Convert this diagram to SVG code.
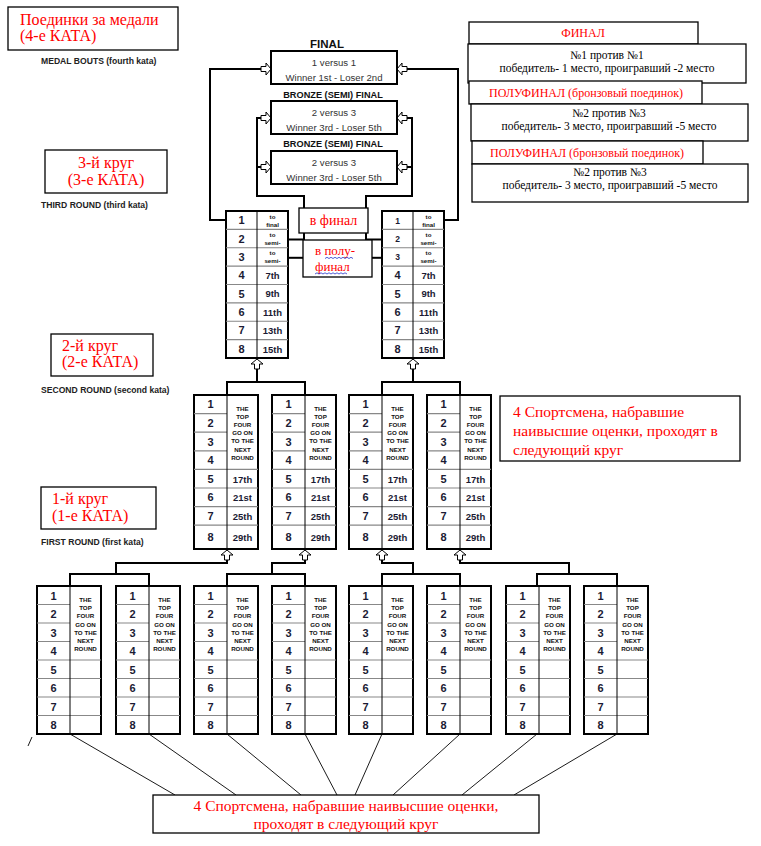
<svg xmlns="http://www.w3.org/2000/svg" xmlns:xlink="http://www.w3.org/1999/xlink" width="761" height="846" viewBox="0 0 761 846">
<style>
.bx{fill:#fff;stroke:#000;stroke-width:1.3}
.red{font-family:"Liberation Serif","Times New Roman",serif;fill:#f00}
.blk{font-family:"Liberation Serif","Times New Roman",serif;fill:#000}
.lbl{font-family:"Liberation Sans",Arial,sans-serif;font-weight:bold;font-size:8.6px;fill:#222}
.ft{font-family:"Liberation Sans",Arial,sans-serif;font-size:9.6px;fill:#333;text-anchor:middle}
.fh{font-family:"Liberation Sans",Arial,sans-serif;font-weight:bold;font-size:9.2px;fill:#111;text-anchor:middle}
.tb{fill:#fff;stroke:#000;stroke-width:2}
.rl{stroke:#888;stroke-width:1.2;fill:none}
.dv{stroke:#000;stroke-width:1;fill:none}
.n{font-family:"Liberation Sans",Arial,sans-serif;font-weight:bold;font-size:11px;fill:#1b1b33;text-anchor:middle}
.ns{font-size:8.5px}
.o{font-family:"Liberation Sans",Arial,sans-serif;font-weight:bold;font-size:9.5px;fill:#1b1b33;text-anchor:middle}
.tf{font-family:"Liberation Sans",Arial,sans-serif;font-weight:bold;font-size:6.2px;fill:#111;text-anchor:middle}
.ln{stroke:#000;stroke-width:2;fill:none}
.dg{stroke:#000;stroke-width:0.9;fill:none}
.ar{fill:#fff;stroke:#000;stroke-width:1}
.wv{stroke:#2233cc;stroke-width:0.8;fill:none}
</style>
<defs>
<path id="arR" d="M-10,-2.5H-5V-6L0,0L-5,6V2.5H-10Z"/>
<path id="arU" d="M-2.5,10V5H-6L0,0L6,5H2.5V10Z"/>
</defs>

<!-- connectors -->
<g id="connectors">
<polyline class="ln" points="226,220 210,220 210,69 261,69"/>
<polyline class="ln" points="444,220 458,220 458,69 407,69"/>
<polyline class="ln" points="261,118 257,118 257,196 304,196 304,257.8"/>
<polyline class="ln" points="257,167 261,167"/>
<polyline class="ln" points="288,239.5 304,239.5"/>
<polyline class="ln" points="288,257.8 304,257.8"/>
<polyline class="ln" points="407,118 412,118 412,196 366,196 366,257.8"/>
<polyline class="ln" points="407,167 412,167"/>
<polyline class="ln" points="366,239.5 382,239.5"/>
<polyline class="ln" points="366,257.8 382,257.8"/>
<use href="#arR" class="ar" transform="translate(271,69)"/>
<use href="#arR" class="ar" transform="translate(271,118)"/>
<use href="#arR" class="ar" transform="translate(271,167)"/>
<use href="#arR" class="ar" transform="translate(397,69) scale(-1,1)"/>
<use href="#arR" class="ar" transform="translate(397,118) scale(-1,1)"/>
<use href="#arR" class="ar" transform="translate(397,167) scale(-1,1)"/>
<polyline class="ln" points="257,369 257,382"/>
<polyline class="ln" points="227,395 227,382 305,382 305,395"/>
<polyline class="ln" points="413,369 413,382"/>
<polyline class="ln" points="382,395 382,382 460,382 460,395"/>
<use href="#arU" class="ar" transform="translate(257,359)"/>
<use href="#arU" class="ar" transform="translate(413,359)"/>
<polyline class="ln" points="70,586 70,574 149,574 149,586"/>
<polyline class="ln" points="116,574 116,563 227,563 227,560"/>
<polyline class="ln" points="227,586 227,574 305,574 305,586"/>
<polyline class="ln" points="272,574 272,563 305,563 305,560"/>
<polyline class="ln" points="382,586 382,574 460,574 460,586"/>
<polyline class="ln" points="413,574 413,563 382,563 382,560"/>
<polyline class="ln" points="537,586 537,574 617,574 617,586"/>
<polyline class="ln" points="569,574 569,563 460,563 460,560"/>
<use href="#arU" class="ar" transform="translate(227,550)"/>
<use href="#arU" class="ar" transform="translate(305,550)"/>
<use href="#arU" class="ar" transform="translate(382,550)"/>
<use href="#arU" class="ar" transform="translate(460,550)"/>
<line class="dg" x1="70" y1="734" x2="175" y2="795"/>
<line class="dg" x1="149" y1="734" x2="236" y2="795"/>
<line class="dg" x1="227" y1="734" x2="301" y2="795"/>
<line class="dg" x1="305" y1="734" x2="337" y2="795"/>
<line class="dg" x1="382" y1="734" x2="355" y2="795"/>
<line class="dg" x1="460" y1="734" x2="393" y2="795"/>
<line class="dg" x1="537" y1="734" x2="462" y2="795"/>
<line class="dg" x1="617" y1="734" x2="514" y2="795"/>
<line class="dg" x1="28" y1="746" x2="32" y2="737"/>
</g>

<!-- left labels -->
<g id="medal-label">
<rect class="bx" x="8" y="7" width="170" height="43"/>
<text class="red" font-size="16" x="20" y="25">Поединки за медали</text>
<text class="red" font-size="16" x="20" y="41">(4-е КАТА)</text>
<text class="lbl" x="41" y="64">MEDAL BOUTS (fourth kata)</text>
</g>
<g id="third-label">
<rect class="bx" x="45" y="150" width="122" height="43"/>
<text class="red" font-size="16" x="106" y="168" text-anchor="middle">3-й круг</text>
<text class="red" font-size="16" x="106" y="185" text-anchor="middle">(3-е КАТА)</text>
<text class="lbl" x="41" y="208">THIRD ROUND (third kata)</text>
</g>
<g id="second-label">
<rect class="bx" x="51" y="334" width="102" height="42"/>
<text class="red" font-size="16" x="62" y="351">2-й круг</text>
<text class="red" font-size="16" x="62" y="367">(2-е КАТА)</text>
<text class="lbl" x="41" y="393">SECOND ROUND (second kata)</text>
</g>
<g id="first-label">
<rect class="bx" x="41" y="487" width="115" height="42"/>
<text class="red" font-size="16" x="52" y="504">1-й круг</text>
<text class="red" font-size="16" x="52" y="521">(1-е КАТА)</text>
<text class="lbl" x="41" y="545">FIRST ROUND (first kata)</text>
</g>

<!-- final boxes -->
<g id="final">
<text class="fh" x="327" y="48" style="font-size:11.5px">FINAL</text>
<rect class="tb" x="271" y="51" width="126" height="33"/>
<text class="ft" x="334" y="66">1 versus 1</text>
<text class="ft" x="334" y="81">Winner 1st - Loser 2nd</text>
</g>
<g id="bronze1">
<text class="fh" x="333" y="98">BRONZE (SEMI) FINAL</text>
<rect class="tb" x="271" y="101" width="126" height="33"/>
<text class="ft" x="334" y="116">2 versus 3</text>
<text class="ft" x="334" y="131">Winner 3rd - Loser 5th</text>
</g>
<g id="bronze2">
<text class="fh" x="333" y="147">BRONZE (SEMI) FINAL</text>
<rect class="tb" x="271" y="151" width="126" height="33"/>
<text class="ft" x="334" y="166">2 versus 3</text>
<text class="ft" x="334" y="181">Winner 3rd - Loser 5th</text>
</g>

<!-- top right annotations -->
<g id="ann-final">
<rect class="bx" x="469" y="22" width="229" height="22"/>
<text class="red" font-size="12" x="583" y="37" text-anchor="middle">ФИНАЛ</text>
<rect class="bx" x="468" y="44" width="278" height="39"/>
<text class="blk" font-size="11.5" x="607" y="59" text-anchor="middle">№1 против №1</text>
<text class="blk" font-size="11.5" x="607" y="72" text-anchor="middle">победитель- 1 место, проигравший -2 место</text>
</g>
<g id="ann-semi1">
<rect class="bx" x="469" y="81" width="233" height="23"/>
<text class="red" font-size="12" x="586" y="97" text-anchor="middle">ПОЛУФИНАЛ (бронзовый поединок)</text>
<rect class="bx" x="471" y="104" width="277" height="37"/>
<text class="blk" font-size="11.5" x="609" y="117" text-anchor="middle">№2 против №3</text>
<text class="blk" font-size="11.5" x="609" y="130" text-anchor="middle">победитель- 3 место, проигравший -5 место</text>
</g>
<g id="ann-semi2">
<rect class="bx" x="472" y="141" width="231" height="23"/>
<text class="red" font-size="12" x="587" y="157" text-anchor="middle">ПОЛУФИНАЛ (бронзовый поединок)</text>
<rect class="bx" x="472" y="164" width="276" height="38"/>
<text class="blk" font-size="11.5" x="610" y="176" text-anchor="middle">№2 против №3</text>
<text class="blk" font-size="11.5" x="610" y="189" text-anchor="middle">победитель- 3 место, проигравший -5 место</text>
</g>

<!-- third round tables -->
<g id="r3-left" transform="translate(226,211)">
<rect class="tb" x="0" y="0" width="62" height="147"/>
<path class="rl" d="M0,18.4H62M0,36.75H62M0,55.1H62M0,73.5H62M0,91.9H62M0,110.25H62M0,128.6H62"/>
<path class="dv" d="M31,0V147"/>
<text class="n" x="15.5" y="13.2">1</text>
<text class="n" x="15.5" y="31.6">2</text>
<text class="n" x="15.5" y="50">3</text>
<text class="n" x="15.5" y="68.3">4</text>
<text class="n" x="15.5" y="86.7">5</text>
<text class="n" x="15.5" y="105.1">6</text>
<text class="n" x="15.5" y="123.4">7</text>
<text class="n" x="15.5" y="141.8">8</text>
<text class="tf" x="46.5" y="7.5">to</text>
<text class="tf" x="46.5" y="15.5">final</text>
<text class="tf" x="46.5" y="25.9">to</text>
<text class="tf" x="46.5" y="33.9">semi-</text>
<text class="tf" x="46.5" y="44.3">to</text>
<text class="tf" x="46.5" y="52.3">semi-</text>
<text class="o" x="46.5" y="68">7th</text>
<text class="o" x="46.5" y="86.4">9th</text>
<text class="o" x="46.5" y="104.8">11th</text>
<text class="o" x="46.5" y="123.1">13th</text>
<text class="o" x="46.5" y="141.5">15th</text>
</g>
<g id="r3-right" transform="translate(382,211)">
<rect class="tb" x="0" y="0" width="62" height="147"/>
<path class="rl" d="M0,18.4H62M0,36.75H62M0,55.1H62M0,73.5H62M0,91.9H62M0,110.25H62M0,128.6H62"/>
<path class="dv" d="M31,0V147"/>
<text class="n ns" x="15.5" y="12.5">1</text>
<text class="n ns" x="15.5" y="30.9">2</text>
<text class="n ns" x="15.5" y="49.3">3</text>
<text class="n" x="15.5" y="68.3">4</text>
<text class="n" x="15.5" y="86.7">5</text>
<text class="n" x="15.5" y="105.1">6</text>
<text class="n" x="15.5" y="123.4">7</text>
<text class="n" x="15.5" y="141.8">8</text>
<text class="tf" x="46.5" y="7.5">to</text>
<text class="tf" x="46.5" y="15.5">final</text>
<text class="tf" x="46.5" y="25.9">to</text>
<text class="tf" x="46.5" y="33.9">semi-</text>
<text class="tf" x="46.5" y="44.3">to</text>
<text class="tf" x="46.5" y="52.3">semi-</text>
<text class="o" x="46.5" y="68">7th</text>
<text class="o" x="46.5" y="86.4">9th</text>
<text class="o" x="46.5" y="104.8">11th</text>
<text class="o" x="46.5" y="123.1">13th</text>
<text class="o" x="46.5" y="141.5">15th</text>
</g>

<!-- middle notes -->
<g id="note-final">
<rect class="bx" x="299" y="208" width="69" height="25"/>
<text class="red" font-size="14" x="333.5" y="225" text-anchor="middle">в финал</text>
</g>
<g id="note-semi">
<rect class="bx" x="303" y="240" width="69" height="37"/>
<text class="red" font-size="13" x="315" y="255">в полу-</text>
<text class="red" font-size="13" x="315" y="271">финал</text>
<path class="wv" d="M325,258.5l2,-1.2l2,1.2l2,-1.2l2,1.2l2,-1.2l2,1.2l2,-1.2l2,1.2l2,-1.2l2,1.2l2,-1.2l2,1.2l2,-1.2l2,1.2"/>
<path class="wv" d="M315,274l2,-1.2l2,1.2l2,-1.2l2,1.2l2,-1.2l2,1.2l2,-1.2l2,1.2l2,-1.2l2,1.2l2,-1.2l2,1.2l2,-1.2l2,1.2l2,-1.2l2,1.2"/>
</g>

<!-- second round tables -->
<g id="r2-t1" transform="translate(194,395)">
<rect class="tb" x="0" y="0" width="64" height="154"/>
<path class="rl" d="M0,18.6H33M0,37.2H33M0,55.8H33M0,74.4H64M0,93H64M0,111.6H64M0,130.2H64"/>
<path class="dv" d="M33,0V154"/>
<text class="n" x="16.5" y="13.3">1</text><text class="n" x="16.5" y="31.9">2</text><text class="n" x="16.5" y="50.5">3</text><text class="n" x="16.5" y="69.1">4</text><text class="n" x="16.5" y="87.7">5</text><text class="n" x="16.5" y="106.3">6</text><text class="n" x="16.5" y="124.9">7</text><text class="n" x="16.5" y="146">8</text>
<text class="tf" x="48.5" y="15.5">THE</text><text class="tf" x="48.5" y="23.7">TOP</text><text class="tf" x="48.5" y="31.9">FOUR</text><text class="tf" x="48.5" y="40.1">GO ON</text><text class="tf" x="48.5" y="48.3">TO THE</text><text class="tf" x="48.5" y="56.5">NEXT</text><text class="tf" x="48.5" y="64.7">ROUND</text>
<text class="o" x="48.5" y="87.5">17th</text><text class="o" x="48.5" y="106">21st</text><text class="o" x="48.5" y="124.6">25th</text><text class="o" x="48.5" y="145.8">29th</text>
</g>
<g id="r2-t2" transform="translate(272,395)">
<rect class="tb" x="0" y="0" width="64" height="154"/>
<path class="rl" d="M0,18.6H33M0,37.2H33M0,55.8H33M0,74.4H64M0,93H64M0,111.6H64M0,130.2H64"/>
<path class="dv" d="M33,0V154"/>
<text class="n" x="16.5" y="13.3">1</text><text class="n" x="16.5" y="31.9">2</text><text class="n" x="16.5" y="50.5">3</text><text class="n" x="16.5" y="69.1">4</text><text class="n" x="16.5" y="87.7">5</text><text class="n" x="16.5" y="106.3">6</text><text class="n" x="16.5" y="124.9">7</text><text class="n" x="16.5" y="146">8</text>
<text class="tf" x="48.5" y="15.5">THE</text><text class="tf" x="48.5" y="23.7">TOP</text><text class="tf" x="48.5" y="31.9">FOUR</text><text class="tf" x="48.5" y="40.1">GO ON</text><text class="tf" x="48.5" y="48.3">TO THE</text><text class="tf" x="48.5" y="56.5">NEXT</text><text class="tf" x="48.5" y="64.7">ROUND</text>
<text class="o" x="48.5" y="87.5">17th</text><text class="o" x="48.5" y="106">21st</text><text class="o" x="48.5" y="124.6">25th</text><text class="o" x="48.5" y="145.8">29th</text>
</g>
<g id="r2-t3" transform="translate(349,395)">
<rect class="tb" x="0" y="0" width="64" height="154"/>
<path class="rl" d="M0,18.6H33M0,37.2H33M0,55.8H33M0,74.4H64M0,93H64M0,111.6H64M0,130.2H64"/>
<path class="dv" d="M33,0V154"/>
<text class="n" x="16.5" y="13.3">1</text><text class="n" x="16.5" y="31.9">2</text><text class="n" x="16.5" y="50.5">3</text><text class="n" x="16.5" y="69.1">4</text><text class="n" x="16.5" y="87.7">5</text><text class="n" x="16.5" y="106.3">6</text><text class="n" x="16.5" y="124.9">7</text><text class="n" x="16.5" y="146">8</text>
<text class="tf" x="48.5" y="15.5">THE</text><text class="tf" x="48.5" y="23.7">TOP</text><text class="tf" x="48.5" y="31.9">FOUR</text><text class="tf" x="48.5" y="40.1">GO ON</text><text class="tf" x="48.5" y="48.3">TO THE</text><text class="tf" x="48.5" y="56.5">NEXT</text><text class="tf" x="48.5" y="64.7">ROUND</text>
<text class="o" x="48.5" y="87.5">17th</text><text class="o" x="48.5" y="106">21st</text><text class="o" x="48.5" y="124.6">25th</text><text class="o" x="48.5" y="145.8">29th</text>
</g>
<g id="r2-t4" transform="translate(427,395)">
<rect class="tb" x="0" y="0" width="64" height="154"/>
<path class="rl" d="M0,18.6H33M0,37.2H33M0,55.8H33M0,74.4H64M0,93H64M0,111.6H64M0,130.2H64"/>
<path class="dv" d="M33,0V154"/>
<text class="n" x="16.5" y="13.3">1</text><text class="n" x="16.5" y="31.9">2</text><text class="n" x="16.5" y="50.5">3</text><text class="n" x="16.5" y="69.1">4</text><text class="n" x="16.5" y="87.7">5</text><text class="n" x="16.5" y="106.3">6</text><text class="n" x="16.5" y="124.9">7</text><text class="n" x="16.5" y="146">8</text>
<text class="tf" x="48.5" y="15.5">THE</text><text class="tf" x="48.5" y="23.7">TOP</text><text class="tf" x="48.5" y="31.9">FOUR</text><text class="tf" x="48.5" y="40.1">GO ON</text><text class="tf" x="48.5" y="48.3">TO THE</text><text class="tf" x="48.5" y="56.5">NEXT</text><text class="tf" x="48.5" y="64.7">ROUND</text>
<text class="o" x="48.5" y="87.5">17th</text><text class="o" x="48.5" y="106">21st</text><text class="o" x="48.5" y="124.6">25th</text><text class="o" x="48.5" y="145.8">29th</text>
</g>

<g id="note-right">
<rect class="bx" x="500" y="396" width="240" height="65"/>
<text class="red" font-size="15.5" x="513" y="417">4 Спортсмена, набравшие</text>
<text class="red" font-size="15.5" x="513" y="436">наивысшие оценки, проходят в</text>
<text class="red" font-size="15.5" x="513" y="455">следующий круг</text>
</g>

<!-- first round tables -->
<g id="r1-t1" transform="translate(37,586)">
<rect class="tb" x="0" y="0" width="64" height="148"/>
<path class="rl" d="M0,18.5H33M0,37H33M0,55.5H33M0,74H64M0,92.5H64M0,111H64M0,129.5H64"/>
<path class="dv" d="M33,0V148"/>
<text class="n" x="16.5" y="13.5">1</text><text class="n" x="16.5" y="32">2</text><text class="n" x="16.5" y="50.5">3</text><text class="n" x="16.5" y="69">4</text><text class="n" x="16.5" y="87.5">5</text><text class="n" x="16.5" y="106">6</text><text class="n" x="16.5" y="124.5">7</text><text class="n" x="16.5" y="143">8</text>
<text class="tf" x="48.5" y="16">THE</text><text class="tf" x="48.5" y="24.2">TOP</text><text class="tf" x="48.5" y="32.4">FOUR</text><text class="tf" x="48.5" y="40.6">GO ON</text><text class="tf" x="48.5" y="48.8">TO THE</text><text class="tf" x="48.5" y="57">NEXT</text><text class="tf" x="48.5" y="65.2">ROUND</text>
</g>
<g id="r1-t2" transform="translate(116,586)">
<rect class="tb" x="0" y="0" width="64" height="148"/>
<path class="rl" d="M0,18.5H33M0,37H33M0,55.5H33M0,74H64M0,92.5H64M0,111H64M0,129.5H64"/>
<path class="dv" d="M33,0V148"/>
<text class="n" x="16.5" y="13.5">1</text><text class="n" x="16.5" y="32">2</text><text class="n" x="16.5" y="50.5">3</text><text class="n" x="16.5" y="69">4</text><text class="n" x="16.5" y="87.5">5</text><text class="n" x="16.5" y="106">6</text><text class="n" x="16.5" y="124.5">7</text><text class="n" x="16.5" y="143">8</text>
<text class="tf" x="48.5" y="16">THE</text><text class="tf" x="48.5" y="24.2">TOP</text><text class="tf" x="48.5" y="32.4">FOUR</text><text class="tf" x="48.5" y="40.6">GO ON</text><text class="tf" x="48.5" y="48.8">TO THE</text><text class="tf" x="48.5" y="57">NEXT</text><text class="tf" x="48.5" y="65.2">ROUND</text>
</g>
<g id="r1-t3" transform="translate(194,586)">
<rect class="tb" x="0" y="0" width="64" height="148"/>
<path class="rl" d="M0,18.5H33M0,37H33M0,55.5H33M0,74H64M0,92.5H64M0,111H64M0,129.5H64"/>
<path class="dv" d="M33,0V148"/>
<text class="n" x="16.5" y="13.5">1</text><text class="n" x="16.5" y="32">2</text><text class="n" x="16.5" y="50.5">3</text><text class="n" x="16.5" y="69">4</text><text class="n" x="16.5" y="87.5">5</text><text class="n" x="16.5" y="106">6</text><text class="n" x="16.5" y="124.5">7</text><text class="n" x="16.5" y="143">8</text>
<text class="tf" x="48.5" y="16">THE</text><text class="tf" x="48.5" y="24.2">TOP</text><text class="tf" x="48.5" y="32.4">FOUR</text><text class="tf" x="48.5" y="40.6">GO ON</text><text class="tf" x="48.5" y="48.8">TO THE</text><text class="tf" x="48.5" y="57">NEXT</text><text class="tf" x="48.5" y="65.2">ROUND</text>
</g>
<g id="r1-t4" transform="translate(272,586)">
<rect class="tb" x="0" y="0" width="64" height="148"/>
<path class="rl" d="M0,18.5H33M0,37H33M0,55.5H33M0,74H64M0,92.5H64M0,111H64M0,129.5H64"/>
<path class="dv" d="M33,0V148"/>
<text class="n" x="16.5" y="13.5">1</text><text class="n" x="16.5" y="32">2</text><text class="n" x="16.5" y="50.5">3</text><text class="n" x="16.5" y="69">4</text><text class="n" x="16.5" y="87.5">5</text><text class="n" x="16.5" y="106">6</text><text class="n" x="16.5" y="124.5">7</text><text class="n" x="16.5" y="143">8</text>
<text class="tf" x="48.5" y="16">THE</text><text class="tf" x="48.5" y="24.2">TOP</text><text class="tf" x="48.5" y="32.4">FOUR</text><text class="tf" x="48.5" y="40.6">GO ON</text><text class="tf" x="48.5" y="48.8">TO THE</text><text class="tf" x="48.5" y="57">NEXT</text><text class="tf" x="48.5" y="65.2">ROUND</text>
</g>
<g id="r1-t5" transform="translate(349,586)">
<rect class="tb" x="0" y="0" width="64" height="148"/>
<path class="rl" d="M0,18.5H33M0,37H33M0,55.5H33M0,74H64M0,92.5H64M0,111H64M0,129.5H64"/>
<path class="dv" d="M33,0V148"/>
<text class="n" x="16.5" y="13.5">1</text><text class="n" x="16.5" y="32">2</text><text class="n" x="16.5" y="50.5">3</text><text class="n" x="16.5" y="69">4</text><text class="n" x="16.5" y="87.5">5</text><text class="n" x="16.5" y="106">6</text><text class="n" x="16.5" y="124.5">7</text><text class="n" x="16.5" y="143">8</text>
<text class="tf" x="48.5" y="16">THE</text><text class="tf" x="48.5" y="24.2">TOP</text><text class="tf" x="48.5" y="32.4">FOUR</text><text class="tf" x="48.5" y="40.6">GO ON</text><text class="tf" x="48.5" y="48.8">TO THE</text><text class="tf" x="48.5" y="57">NEXT</text><text class="tf" x="48.5" y="65.2">ROUND</text>
</g>
<g id="r1-t6" transform="translate(427,586)">
<rect class="tb" x="0" y="0" width="64" height="148"/>
<path class="rl" d="M0,18.5H33M0,37H33M0,55.5H33M0,74H64M0,92.5H64M0,111H64M0,129.5H64"/>
<path class="dv" d="M33,0V148"/>
<text class="n" x="16.5" y="13.5">1</text><text class="n" x="16.5" y="32">2</text><text class="n" x="16.5" y="50.5">3</text><text class="n" x="16.5" y="69">4</text><text class="n" x="16.5" y="87.5">5</text><text class="n" x="16.5" y="106">6</text><text class="n" x="16.5" y="124.5">7</text><text class="n" x="16.5" y="143">8</text>
<text class="tf" x="48.5" y="16">THE</text><text class="tf" x="48.5" y="24.2">TOP</text><text class="tf" x="48.5" y="32.4">FOUR</text><text class="tf" x="48.5" y="40.6">GO ON</text><text class="tf" x="48.5" y="48.8">TO THE</text><text class="tf" x="48.5" y="57">NEXT</text><text class="tf" x="48.5" y="65.2">ROUND</text>
</g>
<g id="r1-t7" transform="translate(506,586)">
<rect class="tb" x="0" y="0" width="64" height="148"/>
<path class="rl" d="M0,18.5H33M0,37H33M0,55.5H33M0,74H64M0,92.5H64M0,111H64M0,129.5H64"/>
<path class="dv" d="M33,0V148"/>
<text class="n" x="16.5" y="13.5">1</text><text class="n" x="16.5" y="32">2</text><text class="n" x="16.5" y="50.5">3</text><text class="n" x="16.5" y="69">4</text><text class="n" x="16.5" y="87.5">5</text><text class="n" x="16.5" y="106">6</text><text class="n" x="16.5" y="124.5">7</text><text class="n" x="16.5" y="143">8</text>
<text class="tf" x="48.5" y="16">THE</text><text class="tf" x="48.5" y="24.2">TOP</text><text class="tf" x="48.5" y="32.4">FOUR</text><text class="tf" x="48.5" y="40.6">GO ON</text><text class="tf" x="48.5" y="48.8">TO THE</text><text class="tf" x="48.5" y="57">NEXT</text><text class="tf" x="48.5" y="65.2">ROUND</text>
</g>
<g id="r1-t8" transform="translate(584,586)">
<rect class="tb" x="0" y="0" width="64" height="148"/>
<path class="rl" d="M0,18.5H33M0,37H33M0,55.5H33M0,74H64M0,92.5H64M0,111H64M0,129.5H64"/>
<path class="dv" d="M33,0V148"/>
<text class="n" x="16.5" y="13.5">1</text><text class="n" x="16.5" y="32">2</text><text class="n" x="16.5" y="50.5">3</text><text class="n" x="16.5" y="69">4</text><text class="n" x="16.5" y="87.5">5</text><text class="n" x="16.5" y="106">6</text><text class="n" x="16.5" y="124.5">7</text><text class="n" x="16.5" y="143">8</text>
<text class="tf" x="48.5" y="16">THE</text><text class="tf" x="48.5" y="24.2">TOP</text><text class="tf" x="48.5" y="32.4">FOUR</text><text class="tf" x="48.5" y="40.6">GO ON</text><text class="tf" x="48.5" y="48.8">TO THE</text><text class="tf" x="48.5" y="57">NEXT</text><text class="tf" x="48.5" y="65.2">ROUND</text>
</g>

<g id="note-bottom">
<rect class="bx" x="153" y="795" width="386" height="38"/>
<text class="red" font-size="15.5" x="346" y="811" text-anchor="middle">4 Спортсмена, набравшие наивысшие оценки,</text>
<text class="red" font-size="15.5" x="346" y="829" text-anchor="middle">проходят в следующий круг</text>
</g>
</svg>
